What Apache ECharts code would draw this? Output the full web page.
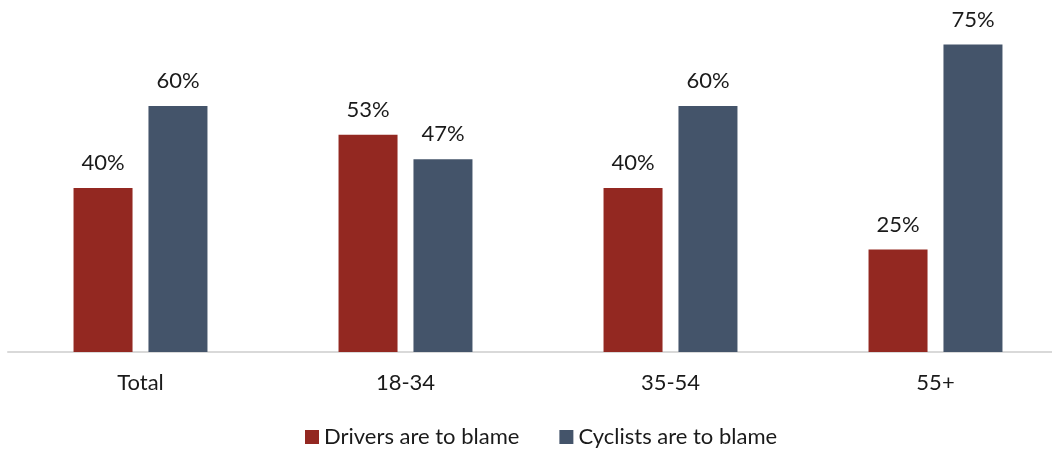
<!DOCTYPE html>
<html>
<head>
<meta charset="utf-8">
<script src="https://cdn.jsdelivr.net/npm/echarts@6/dist/echarts.min.js"></script>
<style>
  html, body { margin: 0; padding: 0; background: #ffffff; }
  #chart { width: 1052px; height: 449px; }
</style>
</head>
<body>
<div id="chart"></div>
<script>
// Who is to blame, by age group (share of respondents, %)
const categories = ['Total', '18-34', '35-54', '55+'];
const driversBlame = [40, 53, 40, 25];
const cyclistsBlame = [60, 47, 60, 75];
const seriesNames = ['Drivers are to blame', 'Cyclists are to blame'];

const FONT = 'Lato, "Open Sans", sans-serif';
const TEXT = '#1a1a1a';

const chart = echarts.init(document.getElementById('chart'), null, { renderer: 'canvas' });

const barLabel = {
  show: true,
  position: 'top',
  distance: 14,
  formatter: p => p.value + '%',
  color: TEXT,
  fontFamily: FONT,
  fontSize: 22
};

chart.setOption({
  animation: false,
  textStyle: { fontFamily: FONT },
  grid: { left: 8, top: 24, width: 1060, height: 328, containLabel: false, outerBoundsMode: 'none' },
  legend: {
    data: seriesNames,
    top: 426,
    left: 305,
    padding: 0,
    itemWidth: 14,
    itemHeight: 14,
    itemGap: 40,
    icon: 'rect',
    textStyle: { color: TEXT, fontFamily: FONT, fontSize: 22 }
  },
  xAxis: {
    type: 'category',
    data: categories,
    axisLine: { show: true, lineStyle: { color: '#d9d9d9', width: 2 } },
    axisTick: { show: false },
    axisLabel: { color: TEXT, fontFamily: FONT, fontSize: 22, margin: 20 }
  },
  yAxis: {
    type: 'value',
    min: 0,
    max: 80,
    show: false,
    splitLine: { show: false }
  },
  series: [
    {
      name: seriesNames[0],
      type: 'bar',
      data: driversBlame,
      barWidth: 59,
      barGap: '27%',
      itemStyle: { color: '#932821' },
      label: barLabel
    },
    {
      name: seriesNames[1],
      type: 'bar',
      data: cyclistsBlame,
      barWidth: 59,
      barGap: '27%',
      itemStyle: { color: '#44546a' },
      label: barLabel
    }
  ]
});
</script>
</body>
</html>
